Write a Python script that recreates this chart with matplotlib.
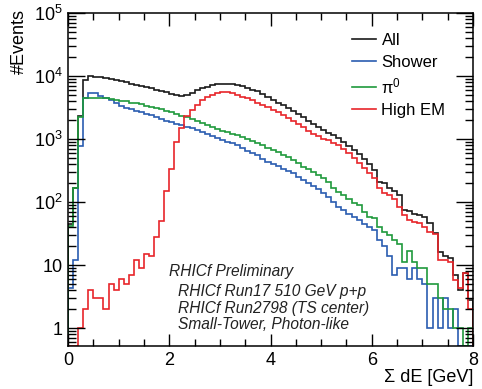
import numpy as np
import matplotlib
matplotlib.use("Agg")
import matplotlib.pyplot as plt
from matplotlib.ticker import LogLocator, FuncFormatter, MultipleLocator, NullFormatter

plt.rcParams['font.family'] = ['Liberation Sans', 'DejaVu Sans']
plt.rcParams['mathtext.fontset'] = 'custom'
plt.rcParams['mathtext.rm'] = 'Liberation Sans'
plt.rcParams['mathtext.it'] = 'Liberation Sans:italic'

# 80 bins of 0.1 GeV, 0 - 8 GeV
edges = np.linspace(0, 8, 81)

all_evt = [45, 170, 2300, 8700, 10000, 9800, 9500, 9200, 8900, 8600,
           8200, 7900, 7600, 7300, 7000, 6700, 6400, 6100, 5800, 5500,
           5200, 5000, 4900, 5000, 5400, 5900, 6400, 6800, 7200, 7400,
           7500, 7500, 7400, 7200, 6900, 6500, 6100, 5700, 5200, 4700,
           4200, 3800, 3450, 3100, 2800, 2500, 2200, 1950, 1750, 1550,
           1400, 1250, 1150, 1050, 900, 780, 680, 580, 480, 400,
           320, 210, 200, 165, 150, 130, 75, 72, 64, 62,
           58, 46, 32, 16, 14, 13, 7, 4, 7.5, 2.8]

shower = [4.3, 12, 780, 4500, 5400, 5300, 4900, 4500, 4100, 3700,
          3300, 3100, 2950, 2800, 2650, 2500, 2400, 2250, 2100, 1950,
          1850, 1750, 1650, 1550, 1470, 1400, 1300, 1200, 1100, 1030,
          960, 900, 850, 790, 720, 650, 600, 550, 490, 440,
          400, 370, 340, 310, 290, 250, 220, 200, 180, 160,
          140, 120, 100, 83, 75, 65, 58, 52, 45, 40,
          36, 25, 20, 14, 7, 9, 9, 6, 9, 6,
          5, 1, 3, 1, 3, 1, 2, 0, 0, 0]

pi0 = [42, 166, 2200, 4500, 4500, 4500, 4450, 4400, 4300, 4200,
       4050, 3950, 3800, 3700, 3550, 3400, 3250, 3100, 2950, 2800,
       2650, 2500, 2350, 2200, 2050, 1900, 1800, 1650, 1550, 1450,
       1350, 1300, 1200, 1150, 1080, 1000, 920, 870, 790, 720,
       680, 620, 560, 510, 470, 420, 360, 330, 300, 270,
       240, 210, 170, 145, 130, 110, 95, 90, 70, 58,
       55, 40, 33, 30, 25, 22, 11, 17, 11, 9,
       9, 5, 5, 3, 2, 2, 1, 1, 0, 1]

high_em = [0, 0, 1, 2, 4, 3, 3, 2, 5, 4,
           6, 5, 7, 12, 9, 15, 14, 28, 50, 150,
           330, 900, 1500, 2300, 2900, 3500, 4100, 4600, 5000, 5400,
           5600, 5500, 5300, 5000, 4700, 4400, 4100, 3800, 3500, 3200,
           2900, 2650, 2400, 2150, 1950, 1750, 1550, 1350, 1200, 1100,
           1000, 950, 880, 800, 700, 600, 500, 420, 350, 290,
           240, 165, 140, 130, 110, 83, 62, 52, 48, 46,
           40, 33, 31, 12, 12, 11, 5.8, 4.3, 7.5, 2]

labels = ["All", "Shower", "π$^{0}$", "High EM"]
colors = ["#1a1a1a", "#2a5cb0", "#1f9a3c", "#e8252a"]

ymin, ymax = 0.52, 1e5

fig = plt.figure(figsize=(4.82, 3.89), dpi=100)
ax = fig.add_axes([68/482, 1-346/389, 405/482, 333/389])

for vals, lab, col in zip([all_evt, shower, pi0, high_em], labels, colors):
    v = np.array(vals, dtype=float)
    v = np.where(v > 0, v, ymin)
    ax.stairs(v, edges, baseline=ymin, color=col, lw=1.2, label=lab)

ax.set_yscale('log')
ax.set_xlim(0, 8)
ax.set_ylim(ymin, ymax)

ax.xaxis.set_major_locator(MultipleLocator(2))
ax.xaxis.set_minor_locator(MultipleLocator(0.5))
ax.yaxis.set_major_locator(LogLocator(base=10, numticks=10))
ax.yaxis.set_minor_locator(LogLocator(base=10, subs=np.arange(2, 10), numticks=20))
ax.yaxis.set_minor_formatter(NullFormatter())


def fmt(y, pos):
    e = int(round(np.log10(y)))
    if e == 0:
        return "1"
    if e == 1:
        return "10"
    return r"$10^{%d}$" % e


ax.yaxis.set_major_formatter(FuncFormatter(fmt))
ax.tick_params(which='both', direction='in', top=True, right=True, labelsize=13, width=1.0)
ax.tick_params(which='major', length=9, pad=4)
ax.tick_params(which='minor', length=5)
ax.tick_params(axis='y', which='major', length=12)
ax.tick_params(axis='y', which='minor', length=6)
for s in ax.spines.values():
    s.set_linewidth(1.1)

fig.text(19/482, 1-9/389, "#Events", rotation=90, ha='center', va='top', fontsize=13)
fig.text(473/482, 1-378/389, "Σ dE [GeV]", ha='right', va='center', fontsize=13)

ax.legend(loc='upper left', bbox_to_anchor=(0.702, 0.94), frameon=False, fontsize=12,
          handlelength=1.4, handletextpad=0.35, labelspacing=0.4, borderpad=0, borderaxespad=0)

tx = dict(transform=ax.transAxes, fontsize=11.2, style='italic', color='#222222', va='center')
ax.text(0.250, 0.225, "RHICf Preliminary", **tx)
ax.text(0.272, 0.163, "RHICf Run17 510 GeV p+p", **tx)
ax.text(0.272, 0.114, "RHICf Run2798 (TS center)", **tx)
ax.text(0.272, 0.064, "Small-Tower, Photon-like", **tx)

fig.savefig("out.png", dpi=100)
